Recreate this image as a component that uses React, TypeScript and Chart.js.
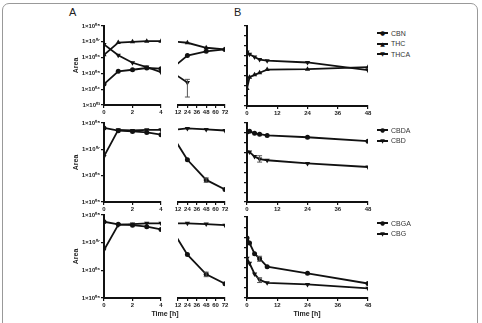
import React, { useEffect, useRef } from "react";
import { Chart, registerables } from "chart.js";
Chart.register(...registerables);

const FONT = "'Liberation Sans', Arial, Helvetica, sans-serif";
const INK = "#111";

// ---------- time points / ticks ----------
const TIME_A_SHORT = [0, 1, 2, 3, 4];
const TIME_A_LONG = [4, 24, 48, 72];
const TIME_A_LONG_THCA = [4, 24];
const TIME_B = [0, 1, 3, 5, 8, 24, 48];

const TICKS_A_SHORT = [0, 2, 4];
const TICKS_A_LONG = [12, 24, 36, 48, 60, 72];
const TICKS_B_X = [0, 12, 24, 36, 48];
const DECADES_TOP = [1e3, 1e4, 1e5, 1e6, 1e7, 1e8];
const DECADES_LOW = [1e5, 1e6, 1e7, 1e8];
const B_Y_TICKS = [1e4, 3.16e4, 1e5, 3.16e5, 1e6, 3.16e6, 1e7, 3.16e7, 1e8];

// ---------- panel A, top (THC / THCA / CBN) ----------
const CBN_A_SHORT = [2.1e4, 1.35e5, 1.7e5, 2.2e5, 2.0e5];
const CBN_A_LONG = [2.0e5, 1.35e6, 2.5e6, 3.3e6];
const THC_A_SHORT = [1.5e6, 9e6, 1.0e7, 1.1e7, 1.1e7];
const THC_A_LONG = [1.1e7, 8.7e6, 4.2e6, 3.3e6];
const THCA_A_SHORT = [6.8e6, 1.4e6, 4.7e5, 2.5e5, 1.2e5];
const THCA_A_LONG = [1.2e5, 2.7e4];
const THCA_A_LONG_ERR = [{ x: 24, lo: 3.2e3, hi: 4.2e4 }];

// ---------- panel A, middle (CBDA / CBD) ----------
const CBDA_A_SHORT = [6.5e7, 5.1e7, 4.8e7, 4.4e7, 3.6e7];
const CBDA_A_LONG = [3.6e7, 4.0e6, 6.9e5, 3.0e5];
const CBDA_A_LONG_ERR = [{ x: 48, lo: 5.6e5, hi: 8.2e5 }];
const CBD_A_SHORT = [5.4e6, 5.5e7, 5.2e7, 5.5e7, 5.5e7];
const CBD_A_LONG = [5.5e7, 6.2e7, 5.7e7, 5.2e7];

// ---------- panel A, bottom (CBGA / CBG) ----------
const CBGA_A_SHORT = [5.7e7, 4.6e7, 4.3e7, 3.8e7, 3.0e7];
const CBGA_A_LONG = [3.0e7, 3.7e6, 7.2e5, 3.3e5];
const CBGA_A_LONG_ERR = [{ x: 48, lo: 5.9e5, hi: 8.6e5 }];
const CBG_A_SHORT = [5.4e6, 4.4e7, 4.7e7, 5.0e7, 5.0e7];
const CBG_A_LONG = [5.0e7, 5.0e7, 4.7e7, 4.3e7];

// ---------- panel B ----------
const THCA_B = [5.0e6, 3.85e6, 2.8e6, 2.1e6, 1.85e6, 1.5e6, 6.2e5];
const THC_B = [7.4e4, 2.75e5, 3.6e5, 4.6e5, 6.6e5, 6.9e5, 8.7e5];
const CBDA_B = [3.55e7, 3.8e7, 3.0e7, 2.7e7, 2.35e7, 1.9e7, 1.2e7];
const CBD_B = [3.4e6, 3.4e6, 2.0e6, 1.5e6, 1.3e6, 9e5, 5.9e5];
const CBD_B_ERR = [{ x: 5, lo: 1.05e6, hi: 2.2e6 }];
const CBGA_B = [9.3e6, 5.2e6, 1.55e6, 8.7e5, 3.5e5, 1.66e5, 5.2e4];
const CBGA_B_ERR = [{ x: 5, lo: 6.5e5, hi: 1.15e6 }];
const CBG_B = [9.3e5, 5.2e5, 1.55e5, 7.8e4, 5.6e4, 4.7e4, 3.0e4];
const CBG_B_ERR = [{ x: 5, lo: 5.8e4, hi: 1.0e5 }];

const LEGEND_TOP = [
  { label: "CBN", marker: "circle" },
  { label: "THC", marker: "up" },
  { label: "THCA", marker: "down" },
];
const LEGEND_MID = [
  { label: "CBDA", marker: "circle" },
  { label: "CBD", marker: "down" },
];
const LEGEND_BOT = [
  { label: "CBGA", marker: "circle" },
  { label: "CBG", marker: "down" },
];

// ---------- helpers ----------
const SUP: Record<string, string> = {
  "0": "⁰", "1": "¹", "2": "²", "3": "³", "4": "⁴",
  "5": "⁵", "6": "⁶", "7": "⁷", "8": "⁸", "9": "⁹",
};
function decadeLabel(v: number) {
  const e = String(Math.round(Math.log10(v))).padStart(2, "0");
  return "1×10" + e.split("").map((c) => SUP[c]).join("");
}

function series(label: string, xs: number[], ys: number[], marker: string, minX = -Infinity, errors: any[] = []) {
  const r = marker === "circle" ? 2.5 : 3;
  return {
    label,
    data: xs.map((x, i) => ({ x, y: ys[i] })),
    borderColor: INK,
    backgroundColor: INK,
    borderWidth: 1.8,
    pointStyle: marker === "circle" ? "circle" : "triangle",
    pointRotation: marker === "down" ? 180 : 0,
    pointRadius: (c: any) => (c.raw && c.raw.x < minX ? 0 : r),
    pointBorderWidth: 0,
    pointBackgroundColor: INK,
    tension: 0,
    fill: false,
    errorBars: errors,
  };
}

const errorBarPlugin = {
  id: "errorBars",
  afterDatasetsDraw(chart: any) {
    const ctx = chart.ctx;
    const xs = chart.scales.x;
    const ys = chart.scales.y;
    chart.data.datasets.forEach((ds: any) => {
      (ds.errorBars || []).forEach((e: any) => {
        const px = xs.getPixelForValue(e.x);
        const lo = ys.getPixelForValue(e.lo);
        const hi = ys.getPixelForValue(e.hi);
        ctx.save();
        ctx.strokeStyle = "#555";
        ctx.lineWidth = 1;
        ctx.beginPath();
        ctx.moveTo(px, lo);
        ctx.lineTo(px, hi);
        ctx.moveTo(px - 2.5, lo);
        ctx.lineTo(px + 2.5, lo);
        ctx.moveTo(px - 2.5, hi);
        ctx.lineTo(px + 2.5, hi);
        ctx.stroke();
        ctx.restore();
      });
    });
  },
};

function xAxis(min: number, max: number, ticks: number[]) {
  return {
    type: "linear",
    min,
    max,
    afterBuildTicks: (s: any) => {
      s.ticks = ticks.map((v) => ({ value: v }));
    },
    ticks: {
      display: true,
      autoSkip: false,
      maxRotation: 0,
      padding: 1,
      color: "#222",
      font: { family: FONT, size: 6, weight: "bold" },
    },
    grid: { display: true, drawOnChartArea: false, drawTicks: true, tickLength: 3, color: INK, lineWidth: 1.2 },
    border: { display: true, color: INK, width: 2 },
    afterFit: (s: any) => {
      s.height = 12;
    },
  };
}

function yLog(min: number, max: number, ticks: number[], mode: "labels" | "hidden" | "ticksOnly") {
  return {
    type: "logarithmic",
    min,
    max,
    display: mode !== "hidden",
    afterBuildTicks: (s: any) => {
      s.ticks = ticks.map((v) => ({ value: v }));
    },
    ticks: {
      display: mode === "labels",
      autoSkip: false,
      padding: 1,
      color: "#222",
      font: { family: FONT, size: 6, weight: "bold" },
      callback: (v: any) => decadeLabel(Number(v)),
    },
    grid: { display: true, drawOnChartArea: false, drawTicks: true, tickLength: 3, color: INK, lineWidth: 1.2 },
    border: { display: true, color: INK, width: 2 },
    title:
      mode === "labels"
        ? { display: true, text: "Area", color: "#222", padding: 0, font: { family: FONT, size: 7, weight: "bold" } }
        : { display: false },
    afterFit: (s: any) => {
      s.width = mode === "labels" ? 32 : 6;
    },
  };
}

function makeConfig(datasets: any[], x: any, y: any, padding: any) {
  return {
    type: "line",
    data: { datasets },
    options: {
      animation: false,
      responsive: false,
      devicePixelRatio: 1,
      layout: { padding },
      plugins: { legend: { display: false }, tooltip: { enabled: false } },
      scales: { x, y },
    },
    plugins: [errorBarPlugin],
  };
}

function Plot({ left, top, width, height, config }: any) {
  const ref = useRef<HTMLCanvasElement | null>(null);
  useEffect(() => {
    const chart = new Chart(ref.current as HTMLCanvasElement, config);
    return () => chart.destroy();
  }, []);
  return (
    <div style={{ position: "absolute", left, top, width, height }}>
      <canvas ref={ref} width={width} height={height} style={{ width, height, display: "block" }} />
    </div>
  );
}

function LegendItem({ left, top, label, marker }: any) {
  const glyph = marker === "circle" ? "●" : marker === "up" ? "▲" : "▼";
  return (
    <div
      style={{
        position: "absolute",
        left,
        top,
        height: 10,
        display: "flex",
        alignItems: "center",
        fontFamily: FONT,
        fontSize: 7,
        color: "#333",
        whiteSpace: "nowrap",
      }}
    >
      <span style={{ position: "relative", width: 11, height: 10, display: "inline-block" }}>
        <span style={{ position: "absolute", left: 0, top: 4, width: 11, height: 2, background: INK }} />
        <span
          style={{
            position: "absolute",
            left: 0,
            top: 0,
            width: 11,
            lineHeight: "10px",
            textAlign: "center",
            fontSize: 6,
            color: INK,
            fontFamily: "'DejaVu Sans', sans-serif",
          }}
        >
          {glyph}
        </span>
      </span>
      <span style={{ marginLeft: 3 }}>{label}</span>
    </div>
  );
}

// chart-area geometry per row [top, bottom]
const ROW_A = [
  [26, 105],
  [123, 202],
  [215, 298],
];
const ROW_B = [
  [26, 106],
  [123, 202],
  [217, 298],
];

export default function App() {
  const padL = { top: 6, right: 5, bottom: 0, left: 0 };
  const padR = { top: 6, right: 6, bottom: 0, left: 6 };
  const padB = { top: 6, right: 6, bottom: 0, left: 0 };

  const aRows = [
    {
      y: [1e3, 1e8, DECADES_TOP],
      left: [
        series("CBN", TIME_A_SHORT, CBN_A_SHORT, "circle"),
        series("THC", TIME_A_SHORT, THC_A_SHORT, "up"),
        series("THCA", TIME_A_SHORT, THCA_A_SHORT, "down"),
      ],
      right: [
        series("CBN", TIME_A_LONG, CBN_A_LONG, "circle", 12),
        series("THC", TIME_A_LONG, THC_A_LONG, "up", 12),
        series("THCA", TIME_A_LONG_THCA, THCA_A_LONG, "down", 12, THCA_A_LONG_ERR),
      ],
    },
    {
      y: [1e5, 1e8, DECADES_LOW],
      left: [
        series("CBDA", TIME_A_SHORT, CBDA_A_SHORT, "circle"),
        series("CBD", TIME_A_SHORT, CBD_A_SHORT, "down"),
      ],
      right: [
        series("CBDA", TIME_A_LONG, CBDA_A_LONG, "circle", 12, CBDA_A_LONG_ERR),
        series("CBD", TIME_A_LONG, CBD_A_LONG, "down", 12),
      ],
    },
    {
      y: [1e5, 1e8, DECADES_LOW],
      left: [
        series("CBGA", TIME_A_SHORT, CBGA_A_SHORT, "circle"),
        series("CBG", TIME_A_SHORT, CBG_A_SHORT, "down"),
      ],
      right: [
        series("CBGA", TIME_A_LONG, CBGA_A_LONG, "circle", 12, CBGA_A_LONG_ERR),
        series("CBG", TIME_A_LONG, CBG_A_LONG, "down", 12),
      ],
    },
  ];

  const bRows = [
    [series("THCA", TIME_B, THCA_B, "down"), series("THC", TIME_B, THC_B, "up")],
    [series("CBDA", TIME_B, CBDA_B, "circle"), series("CBD", TIME_B, CBD_B, "down", -Infinity, CBD_B_ERR)],
    [
      series("CBGA", TIME_B, CBGA_B, "circle", -Infinity, CBGA_B_ERR),
      series("CBG", TIME_B, CBG_B, "down", -Infinity, CBG_B_ERR),
    ],
  ];

  const legends = [
    { top: 33, items: LEGEND_TOP },
    { top: 130, items: LEGEND_MID },
    { top: 223, items: LEGEND_BOT },
  ];

  return (
    <div
      style={{
        position: "absolute",
        left: 0,
        top: 0,
        width: 482,
        height: 323,
        background: "#fff",
        overflow: "hidden",
        fontFamily: FONT,
      }}
    >
      <div
        style={{
          position: "absolute",
          left: 2,
          top: 3,
          width: 474,
          height: 360,
          border: "1px solid #999",
          borderRadius: 7,
        }}
      />
      <div style={{ position: "absolute", left: 69, top: 7, fontSize: 11, lineHeight: "11px", color: "#222" }}>A</div>
      <div style={{ position: "absolute", left: 234, top: 7, fontSize: 11, lineHeight: "11px", color: "#222" }}>B</div>

      {aRows.map((row, i) => {
        const [T, B] = ROW_A[i];
        const [ymin, ymax, yt] = row.y as any;
        const h = B - T + 6 + 12;
        return (
          <React.Fragment key={"a" + i}>
            <Plot
              left={72}
              top={T - 6}
              width={94}
              height={h}
              config={makeConfig(row.left, xAxis(0, 4, TICKS_A_SHORT), yLog(ymin, ymax, yt, "labels"), padL)}
            />
            <Plot
              left={166}
              top={T - 6}
              width={65}
              height={h}
              config={makeConfig(row.right, xAxis(12, 72, TICKS_A_LONG), yLog(ymin, ymax, yt, "hidden"), padR)}
            />
          </React.Fragment>
        );
      })}

      {bRows.map((ds, i) => {
        const [T, B] = ROW_B[i];
        const h = B - T + 6 + 12;
        return (
          <Plot
            key={"b" + i}
            left={241}
            top={T - 6}
            width={133}
            height={h}
            config={makeConfig(ds, xAxis(0, 48, TICKS_B_X), yLog(1e4, 1e8, B_Y_TICKS, "ticksOnly"), padB)}
          />
        );
      })}

      {legends.map((lg, i) =>
        lg.items.map((it, j) => (
          <LegendItem key={i + "-" + j} left={377} top={lg.top - 5 + j * 10.5} label={it.label} marker={it.marker} />
        ))
      )}

      <div
        style={{
          position: "absolute",
          left: 135,
          width: 60,
          top: 309,
          textAlign: "center",
          fontSize: 7,
          fontWeight: "bold",
          color: "#222",
          lineHeight: "10px",
        }}
      >
        Time [h]
      </div>
      <div
        style={{
          position: "absolute",
          left: 277,
          width: 60,
          top: 309,
          textAlign: "center",
          fontSize: 7,
          fontWeight: "bold",
          color: "#222",
          lineHeight: "10px",
        }}
      >
        Time [h]
      </div>
    </div>
  );
}
